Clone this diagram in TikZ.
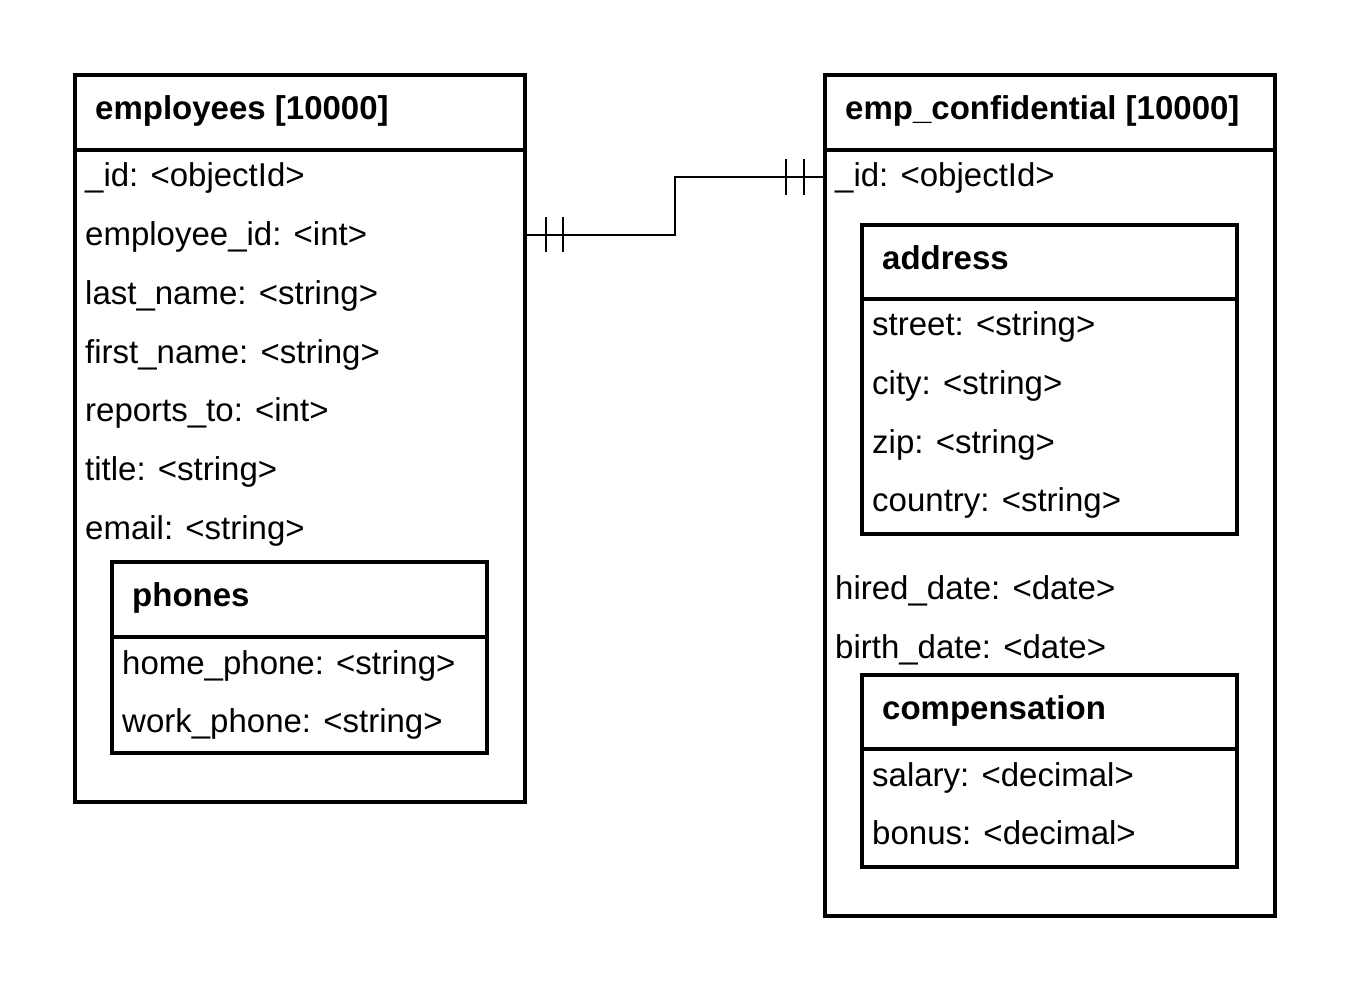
\documentclass[tikz,border=0pt]{standalone}
\usepackage{fontspec}
\setmainfont{Liberation Sans}
\begin{document}
\begin{tikzpicture}[x=1pt,y=-1pt,
  ent/.style={draw=black, line width=3.2pt, rectangle, inner sep=0pt, outer sep=0pt, anchor=north west},
  sep/.style={line width=3.2pt},
  ttl/.style={anchor=base west, inner sep=0pt, font=\fontsize{33}{40}\selectfont\bfseries},
  fld/.style={anchor=base west, inner sep=0pt, font=\fontsize{33}{40}\selectfont},
  rel/.style={line width=2pt},
  tick/.style={line width=2pt}]
\useasboundingbox[fill=white] (0,0) rectangle (1350,992);

% employees collection
\node[ent, minimum width=450pt, minimum height=727pt] (emp) at (75,75) {};
\draw[sep] (75,150) -- (525,150);
\node[ttl] (empT) at (95,119.5) {employees [10000]};
\node[fld] (e1) at (85,186.5) {\_id: <objectId>};
\node[fld] (e2) at (85,245.3) {employee\_id: <int>};
\node[fld] (e3) at (85,304.2) {last\_name: <string>};
\node[fld] (e4) at (85,363) {first\_name: <string>};
\node[fld] (e5) at (85,421.8) {reports\_to: <int>};
\node[fld] (e6) at (85,480.7) {title: <string>};
\node[fld] (e7) at (85,539.5) {email: <string>};

% phones sub-document
\node[ent, minimum width=375pt, minimum height=191pt] (ph) at (112,562) {};
\draw[sep] (112,637) -- (487,637);
\node[ttl] (phT) at (132,606.5) {phones};
\node[fld] (p1) at (122,674) {home\_phone: <string>};
\node[fld] (p2) at (122,732.5) {work\_phone: <string>};

% emp_confidential collection
\node[ent, minimum width=450pt, minimum height=841pt] (conf) at (825,75) {};
\draw[sep] (825,150) -- (1275,150);
\node[ttl] (confT) at (845,119.5) {emp\_confidential [10000]};
\node[fld] (c1) at (835,186.5) {\_id: <objectId>};
\node[fld] (c2) at (835,599.5) {hired\_date: <date>};
\node[fld] (c3) at (835,658) {birth\_date: <date>};

% address sub-document
\node[ent, minimum width=375pt, minimum height=309pt] (addr) at (862,225) {};
\draw[sep] (862,299) -- (1237,299);
\node[ttl] (addrT) at (882,269.5) {address};
\node[fld] (a1) at (872,336) {street: <string>};
\node[fld] (a2) at (872,394.5) {city: <string>};
\node[fld] (a3) at (872,453) {zip: <string>};
\node[fld] (a4) at (872,511.5) {country: <string>};

% compensation sub-document
\node[ent, minimum width=375pt, minimum height=192pt] (comp) at (862,675) {};
\draw[sep] (862,749) -- (1237,749);
\node[ttl] (compT) at (882,719.5) {compensation};
\node[fld] (m1) at (872,786) {salary: <decimal>};
\node[fld] (m2) at (872,844.5) {bonus: <decimal>};

% one-to-one relationship
\coordinate (src) at ([yshift=-160pt]emp.north east);
\coordinate (dst) at ([yshift=-102pt]conf.north west);
\draw[rel] (src) -- ++(150,0) |- (dst);
\draw[tick] ([xshift=21pt]src) ++(0,-17.5) -- ++(0,35);
\draw[tick] ([xshift=38pt]src) ++(0,-17.5) -- ++(0,35);
\draw[tick] ([xshift=-39pt]dst) ++(0,-18) -- ++(0,36);
\draw[tick] ([xshift=-21pt]dst) ++(0,-18) -- ++(0,36);
\end{tikzpicture}
\end{document}
